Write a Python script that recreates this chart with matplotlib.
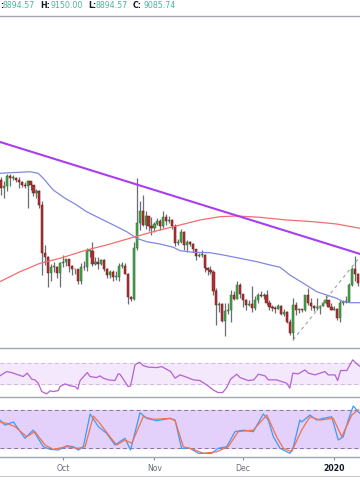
import numpy as np
import pandas as pd
import matplotlib
matplotlib.use('Agg')
import matplotlib.pyplot as plt
from matplotlib.transforms import blended_transform_factory

# daily candles, 2019-09-10 .. 2020-01-09
start = pd.Timestamp('2019-09-10')

opens = [10310, 10100, 10160, 10410, 10360, 10360, 10310, 10260, 10190, 10160, 10270, 10170, 9980, 10030, 9700, 8530, 8430, 8060, 8200, 8200, 8050,
         8300, 8330, 8390, 8230, 8150, 8140, 7870, 8210, 8190, 8590, 8590, 8270, 8310, 8280, 8370, 8160, 8000, 8080, 7960, 7960, 8230, 8230, 8030, 7470, 7430, 8660, 9260, 9550, 9220, 9430, 9180,
         9150, 9250, 9310, 9200, 9410, 9310, 9340, 9200, 8770, 8810, 9040, 8720, 8800, 8760, 8630, 8460, 8490, 8500, 8170, 8120, 8080, 7610, 7270, 7310, 6900, 7130, 7160, 7520, 7430, 7760,
         7550, 7400, 7290, 7300, 7200, 7390, 7530, 7510, 7530, 7340, 7220, 7200, 7190, 7250, 7070, 7110, 6880, 6610, 7280, 7150, 7190, 7150, 7520, 7320, 7250, 7200, 7200, 7250, 7320, 7390, 7220,
         7170, 7180, 6960, 7340, 7350, 7360, 7760, 8160, 8040]
highs = [10380, 10280, 10450, 10440, 10420, 10380, 10370, 10280, 10260, 10290, 10280, 10180, 10090, 10050, 9800, 8730, 8470, 8260, 8330, 8220, 8330,
         8500, 8390, 8400, 8240, 8160, 8160, 8300, 8340, 8670, 8640, 8810, 8430, 8440, 8400, 8400, 8170, 8120, 8120, 8100, 8300, 8330, 8300, 8050, 7500, 8800, 10350, 9800, 9940, 9550, 9440, 9400,
         9290, 9380, 9360, 9550, 9470, 9440, 9370, 9240, 8870, 9120, 9070, 8860, 8820, 8780, 8640, 8530, 8620, 8510, 8190, 8220, 8120, 7700, 7350, 7330, 7320, 7340, 7650, 7620, 7870, 7820,
         7550, 7420, 7390, 7750, 7490, 7570, 7620, 7570, 7650, 7390, 7270, 7260, 7300, 7270, 7190, 7140, 6940, 7440, 7350, 7210, 7190, 7520, 7690, 7440, 7270, 7440, 7270, 7360, 7520, 7410, 7320,
         7250, 7210, 7400, 7400, 7500, 7810, 8200, 8460, 8050]
lows = [9950, 9860, 10040, 10160, 10290, 10260, 10100, 10130, 10110, 9620, 10070, 9910, 9860, 9620, 8000, 8240, 7710, 7860, 8080, 7940, 7720,
        8200, 8230, 8080, 8010, 8020, 7780, 7780, 8120, 8110, 8450, 8230, 8250, 8150, 8250, 8100, 7930, 7940, 7850, 7890, 7870, 8170, 8020, 7300, 7370, 7400, 8600, 9100, 9200, 9110, 9060, 8980,
        9050, 9220, 9090, 9130, 9210, 9260, 9110, 8700, 8740, 8770, 8600, 8570, 8700, 8570, 8370, 8430, 8430, 8080, 8000, 8040, 7520, 6790, 7120, 6880, 6530, 7060, 6860, 7400, 7420, 7450,
        7240, 7170, 7260, 7100, 7170, 7340, 7480, 7420, 7290, 7170, 7130, 7080, 7190, 7030, 7020, 6850, 6560, 6435, 7040, 7080, 7110, 7140, 7270, 7170, 7130, 7160, 7070, 7250, 7300, 7220, 7150,
        7160, 6920, 6870, 7270, 7320, 7350, 7730, 7870, 7750]
closes = [10100, 10160, 10410, 10360, 10360, 10310, 10260, 10190, 10160, 10270, 10170, 9980, 10030, 9700, 8530, 8430, 8060, 8200, 8200, 8050, 8300,
          8330, 8390, 8230, 8150, 8140, 7870, 8210, 8190, 8590, 8590, 8270, 8310, 8280, 8370, 8160, 8000, 8080, 7960, 7960, 8230, 8230, 8030, 7470, 7430, 8660, 9260, 9550, 9220, 9430, 9180, 9150,
          9250, 9310, 9200, 9410, 9310, 9340, 9200, 8770, 8810, 9040, 8720, 8800, 8760, 8630, 8460, 8490, 8500, 8170, 8120, 8080, 7610, 7270, 7310, 6900, 7130, 7160, 7520, 7430, 7760, 7550,
          7400, 7290, 7300, 7200, 7390, 7530, 7510, 7530, 7340, 7220, 7200, 7190, 7250, 7070, 7110, 6880, 6610, 7280, 7150, 7190, 7150, 7520, 7320, 7250, 7200, 7200, 7250, 7320, 7390, 7220, 7170,
          7180, 6960, 7340, 7350, 7360, 7760, 8160, 8040, 7820]

# moving averages (day offset from start, price)
ma50_day = [-0.4, 3.0, 6.4, 9.8, 12.6, 14.3, 17.7, 21.7, 25.1, 29.0, 33.5, 38.1, 42.6, 46.0, 49.4, 53.9, 58.4, 60.7, 65.2, 70.8, 75.3,
            81.0, 86.7, 91.2, 94.6, 97.9, 102.5, 107.0, 110.4, 113.8, 116.0, 118.3, 121.7]
ma50_val = [10464, 10478, 10488, 10502, 10464, 10343, 10060, 9859, 9722, 9535, 9376, 9214, 9052, 8893, 8810, 8755, 8675, 8593, 8554, 8545, 8489,
            8409, 8327, 8247, 8192, 8005, 7805, 7602, 7522, 7442, 7360, 7336, 7336]
ma200_day = [-0.4, 6.4, 13.2, 20.0, 29.0, 35.8, 44.8, 51.6, 60.7, 67.4, 74.2, 79.9, 87.8, 96.8, 105.8, 113.8, 121.7]
ma200_val = [7844, 8085, 8288, 8409, 8610, 8731, 8917, 9052, 9214, 9335, 9415, 9432, 9400, 9335, 9294, 9238, 9134]

# drawn lines (day, price)
trend_pts = [(0, 11213), (121, 8530)]
dash_pts = [(99, 6435), (121.7, 8448)]

# RSI
rsi_day = [-0.4, 1.9, 3.6, 7.5, 8.9, 10.4, 11.5, 12.6, 13.8, 15.5, 16.6, 17.7, 19.4, 20.0, 21.7, 23.4, 25.1, 26.0, 26.8, 29.2, 30.2,
           32.4, 33.5, 34.7, 36.4, 38.6, 39.7, 40.3, 43.1, 43.9, 45.4, 46.9, 48.2, 49.9, 52.8, 54.5, 57.5, 59.0, 60.7, 62.9, 65.2,
           67.4, 69.7, 71.9, 73.6, 75.1, 76.5, 77.8, 79.9, 81.0, 83.8, 85.7, 87.2, 89.5, 90.6, 93.4, 96.8, 97.9, 98.9, 100.8, 103.0,
           104.2, 106.4, 109.8, 110.9, 113.2, 114.1, 115.1, 117.2, 119.2, 120.6, 121.7]
rsi_val = [45.8, 54, 52.1, 44.5, 51, 39.5, 38.2, 31.9, 15.9, 11.5, 17.2, 15.9, 17.8, 25.4, 30.6, 26.8, 25.4, 20.5, 36.9, 52.1, 44.5,
           42.6, 45.8, 41.4, 38.2, 36.9, 49.6, 49, 25.4, 26.8, 66.8, 71.9, 65.4, 62.4, 61.6, 63.5, 54, 41.4, 47.7, 43.3, 38.2,
           36.9, 28.7, 19.1, 14, 14, 23.5, 39.5, 49, 42.6, 36.9, 38.2, 49, 45.8, 38.2, 38.2, 31.9, 22.4, 51, 49.6, 57.2,
           51, 47.7, 54, 47.7, 47.7, 36.9, 56, 56, 76.3, 68.7, 64]

# Stochastic %K / %D
k_day = [-0.4, 1.3, 4.2, 8.1, 10.9, 14.3, 16.6, 19.4, 22.3, 24.5, 26.2, 27.9, 30.2, 33.0, 35.8, 38.6, 42.0, 43.9, 47.1, 49.4, 52.8,
         57.3, 59.0, 61.2, 64.1, 66.9, 71.4, 73.6, 76.5, 79.3, 82.1, 85.5, 88.9, 90.6, 92.3, 94.6, 97.9, 99.1, 101.3, 101.9, 104.7,
         107.0, 109.2, 112.1, 114.3, 116.0, 117.7, 119.4, 121.1, 121.7]
k_val = [64, 56, 61, 35, 48, 21.6, 17.4, 16.3, 23.2, 21.6, 16.3, 21.6, 73.6, 53.5, 42.8, 24.3, 35, 16.3, 75.7, 66.7, 63,
         66.7, 64, 19, 19, 11, 11, 19, 21.6, 45.5, 48, 45.5, 73.6, 64, 37.5, 19, 11, 21.6, 64, 61, 72,
         64, 66.7, 69.3, 32.2, 37.5, 64, 86.4, 77.3, 74.7]
d_day = [-0.4, 1.9, 4.7, 8.7, 11.5, 14.9, 17.7, 22.3, 26.2, 28.5, 31.3, 33.5, 36.9, 39.2, 42.0, 44.3, 48.2, 51.6, 57.3, 59.0,
         61.8, 65.2, 68.6, 73.1, 77.0, 80.4, 85.5, 90.1, 93.4, 95.7, 98.5, 101.9, 104.7, 108.1, 112.6, 115.5, 118.9, 121.1]
d_val = [61, 58.8, 53.5, 37.5, 45.5, 24.3, 17.4, 21.6, 19, 21.6, 70.4, 58.8, 37.5, 24.3, 32.2, 27, 69.3, 65.2, 66.7, 63,
         21.6, 17.4, 11, 13.6, 21.6, 45.5, 48, 72, 37.5, 19, 13.6, 48, 69.3, 64, 66.7, 37.5, 72, 80.5]

month_ticks = ['2019-10-01', '2019-11-01', '2019-12-01', '2020-01-01']
month_labels = ['Oct', 'Nov', 'Dec', '2020']

W, H = 360, 504
fig = plt.figure(figsize=(W / 100, H / 100), dpi=100)
fig.patch.set_facecolor('white')


def panel(top, bottom):
    a = fig.add_axes([0, 1 - bottom / H, 1, (bottom - top) / H])
    a.set_xlim(-0.356, 121.68)
    a.set_xticks([])
    a.set_yticks([])
    for s in ['left', 'right', 'bottom']:
        a.spines[s].set_visible(False)
    a.spines['top'].set_color('#a3a6af')
    a.spines['top'].set_linewidth(1.0)
    a.set_facecolor('none')
    return a


ax = panel(16, 348)
ax_rsi = panel(348, 397)
ax_st = panel(397, 457)
ax_dt = panel(457, 476)
ax_dt.spines['bottom'].set_visible(True)
ax_dt.spines['bottom'].set_color('#c9cbd1')

# candles
o = np.array(opens, float)
h = np.array(highs, float)
l = np.array(lows, float)
c = np.array(closes, float)
x = np.arange(len(c))
up = c >= o
ax.vlines(x, l, h, color='#6b6e75', lw=0.9, zorder=2)
ax.bar(x, np.maximum(np.abs(c - o), 20), bottom=np.minimum(o, c), width=0.72,
       color=np.where(up, '#45a448', '#b2302f'), edgecolor=np.where(up, '#2d6e31', '#6e1c1c'),
       lw=0.35, zorder=3)

ax.plot(ma50_day, ma50_val, color='#8088e0', lw=0.9, zorder=4)
ax.plot(ma200_day, ma200_val, color='#f36d6d', lw=0.9, zorder=4)
ax.axline(trend_pts[0], trend_pts[1], color='#a83ef0', lw=1.5, zorder=5)
ax.plot([p[0] for p in dash_pts], [p[1] for p in dash_pts], color='#a0a0a0', lw=0.8,
        ls=(0, (3, 3)), zorder=4)
ax.set_ylim(6241, 14266)

# RSI
ax_rsi.axhspan(30, 70, color='#f4e8fd', zorder=0)
for lv in (30, 70):
    ax_rsi.axhline(lv, color='#cbbcd8', lw=0.7, ls=(0, (4, 3)), zorder=1)
ax_rsi.plot(rsi_day, rsi_val, color='#b660d4', lw=0.9, zorder=3)
ax_rsi.set_ylim(5.5, 99)

# Stochastic
ax_st.axhspan(20, 80, color='#e3d1fb', zorder=0)
for lv in (20, 80):
    ax_st.axhline(lv, color='#857893', lw=0.7, ls=(0, (4, 3)), zorder=1)
ax_st.plot(k_day, k_val, color='#3f9bf2', lw=0.9, zorder=3)
ax_st.plot(d_day, d_val, color='#f2704f', lw=0.9, zorder=3)
ax_st.set_ylim(5.2, 100.7)

# date axis
tick_x = [(pd.Timestamp(t) - start).days for t in month_ticks]
ax_dt.set_xticks(tick_x)
ax_dt.tick_params(axis='x', bottom=False, top=True, direction='in', length=2.5,
                  color='#8a8d96', labelbottom=False, labeltop=False)
tr = blended_transform_factory(ax_dt.transData, ax_dt.transAxes)
for tx, lab in zip(tick_x, month_labels):
    bold = lab.isdigit()
    ax_dt.text(tx, 0.4, lab, transform=tr, ha='center', va='center', fontsize=5.6,
               color='#131722' if bold else '#6a6d78', fontweight='bold' if bold else 'normal')

# header legend
hdr = [(':', 0.0, '#131722'), ('8894.57', 2.8, '#4fb3a5'), ('H:', 40.5, '#131722'),
       ('9150.00', 50.5, '#4fb3a5'), ('L:', 88.5, '#131722'), ('8894.57', 96.0, '#4fb3a5'),
       ('C:', 133.0, '#131722'), ('9085.74', 143.0, '#4fb3a5')]
for txt, px, col in hdr:
    fig.text(px / W, 1 - 5.5 / H, txt, ha='left', va='center', fontsize=5.7, color=col,
             fontweight='bold' if col == '#131722' else 'normal')

fig.savefig('out.png', dpi=100, facecolor='white')
